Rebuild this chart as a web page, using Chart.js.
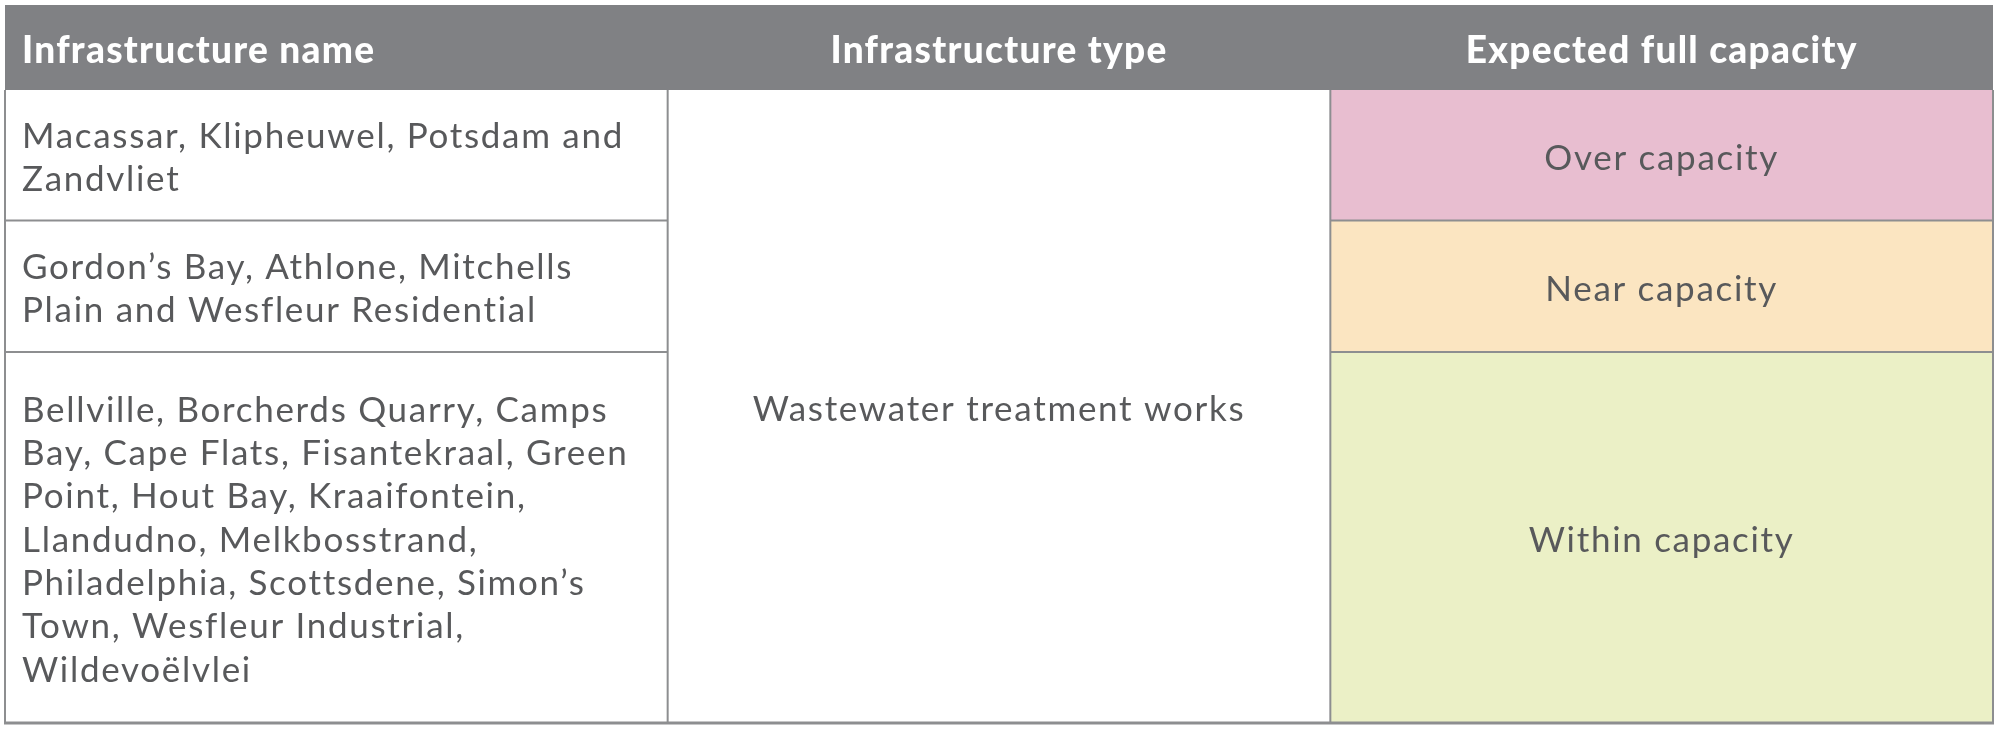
<!DOCTYPE html>
<html>
<head>
<meta charset="utf-8">
<script src="https://cdn.jsdelivr.net/npm/chart.js@4.4.1/dist/chart.umd.min.js"></script>
<style>
  html, body { margin: 0; padding: 0; background: #ffffff; }
  #c { display: block; }
</style>
</head>
<body>
<canvas id="c" width="2004" height="734"></canvas>
<script>
// ---- data ----
const columnHeaders = ['Infrastructure name', 'Infrastructure type', 'Expected full capacity'];
const infrastructureNames = [
  ['Macassar, Klipheuwel, Potsdam and', 'Zandvliet'],
  ['Gordon\u2019s Bay, Athlone, Mitchells', 'Plain and Wesfleur Residential'],
  ['Bellville, Borcherds Quarry, Camps', 'Bay, Cape Flats, Fisantekraal, Green',
   'Point, Hout Bay, Kraaifontein,', 'Llandudno, Melkbosstrand,',
   'Philadelphia, Scottsdene, Simon\u2019s', 'Town, Wesfleur Industrial,', 'Wildevo\u00eblvlei']
];
const infrastructureType = ['Wastewater treatment works'];
const capacityStatus = ['Over capacity', 'Near capacity', 'Within capacity'];

// ---- styles / layout ----
const statusColors = ['#e8bed0', '#fbe5c1', '#ebf0c6'];
const headerColor = '#808184';
const borderColor = '#8d8e90';
const textColor = '#58595b';
// row edges in table units (top to bottom)
const rowEdges = [0, 85, 215.5, 347, 718];
const bodyFont = '35px Lato, "Open Sans", sans-serif';
const bodySpacing = '1.7px';
const headFont = '900 37px Lato, "Open Sans", sans-serif';
const headSpacing = '1.3px';
const lineH = 43.3;
const textShift = 3;

const tablePlugin = {
  id: 'tablePlugin',
  afterDraw(chart) {
    const ctx = chart.ctx;
    const xs = chart.scales.x, ys = chart.scales.y;
    const X = v => xs.getPixelForValue(v);
    const Y = v => ys.getPixelForValue(v);
    ctx.save();
    // header band
    ctx.fillStyle = headerColor;
    ctx.fillRect(X(0), Y(rowEdges[0]), X(3) - X(0), Y(rowEdges[1]) - Y(rowEdges[0]));
    // status cells
    capacityStatus.forEach((s, i) => {
      ctx.fillStyle = statusColors[i];
      ctx.fillRect(X(2), Y(rowEdges[i + 1]), X(3) - X(2), Y(rowEdges[i + 2]) - Y(rowEdges[i + 1]));
    });
    // borders
    ctx.strokeStyle = borderColor;
    ctx.lineWidth = 2;
    const line = (x1, y1, x2, y2) => { ctx.beginPath(); ctx.moveTo(x1, y1); ctx.lineTo(x2, y2); ctx.stroke(); };
    const yTop = Y(rowEdges[1]), yBot = Y(rowEdges[4]);
    [0, 1, 2, 3].forEach(c => line(X(c), yTop, X(c), yBot));
    for (let r = 2; r <= 3; r++) {
      line(X(0), Y(rowEdges[r]), X(1), Y(rowEdges[r]));
      line(X(2), Y(rowEdges[r]), X(3), Y(rowEdges[r]));
    }
    ctx.lineWidth = 3;
    line(X(0) - 1, yBot, X(3) + 1, yBot);
    // header text
    ctx.fillStyle = '#ffffff';
    ctx.font = headFont;
    ctx.letterSpacing = headSpacing;
    ctx.textBaseline = 'middle';
    const hy = (Y(rowEdges[0]) + Y(rowEdges[1])) / 2 + 1 + textShift;
    ctx.textAlign = 'left';
    ctx.fillText(columnHeaders[0], X(0) + 17, hy);
    ctx.textAlign = 'center';
    ctx.fillText(columnHeaders[1], (X(1) + X(2)) / 2, hy);
    ctx.fillText(columnHeaders[2], (X(2) + X(3)) / 2, hy);
    // body text
    ctx.fillStyle = textColor;
    ctx.font = bodyFont;
    ctx.letterSpacing = bodySpacing;
    infrastructureNames.forEach((lines, i) => {
      const cy = (Y(rowEdges[i + 1]) + Y(rowEdges[i + 2])) / 2 + textShift;
      const y0 = cy - (lines.length - 1) * lineH / 2;
      ctx.textAlign = 'left';
      lines.forEach((t, k) => ctx.fillText(t, X(0) + 17, y0 + k * lineH));
      ctx.textAlign = 'center';
      ctx.fillText(capacityStatus[i], (X(2) + X(3)) / 2, cy);
    });
    ctx.textAlign = 'center';
    ctx.fillText(infrastructureType[0], (X(1) + X(2)) / 2, (Y(rowEdges[1]) + Y(rowEdges[4])) / 2 + textShift);
    ctx.restore();
  }
};

new Chart(document.getElementById('c'), {
  type: 'scatter',
  data: { datasets: [{ data: [] }] },
  options: {
    responsive: false,
    devicePixelRatio: 1,
    animation: false,
    layout: { padding: { left: 5, top: 5, right: 11, bottom: 11 } },
    plugins: { legend: { display: false }, tooltip: { enabled: false } },
    scales: {
      x: { type: 'linear', min: 0, max: 3, display: false },
      y: { type: 'linear', min: 0, max: 718, reverse: true, display: false }
    }
  },
  plugins: [tablePlugin]
});
</script>
</body>
</html>
